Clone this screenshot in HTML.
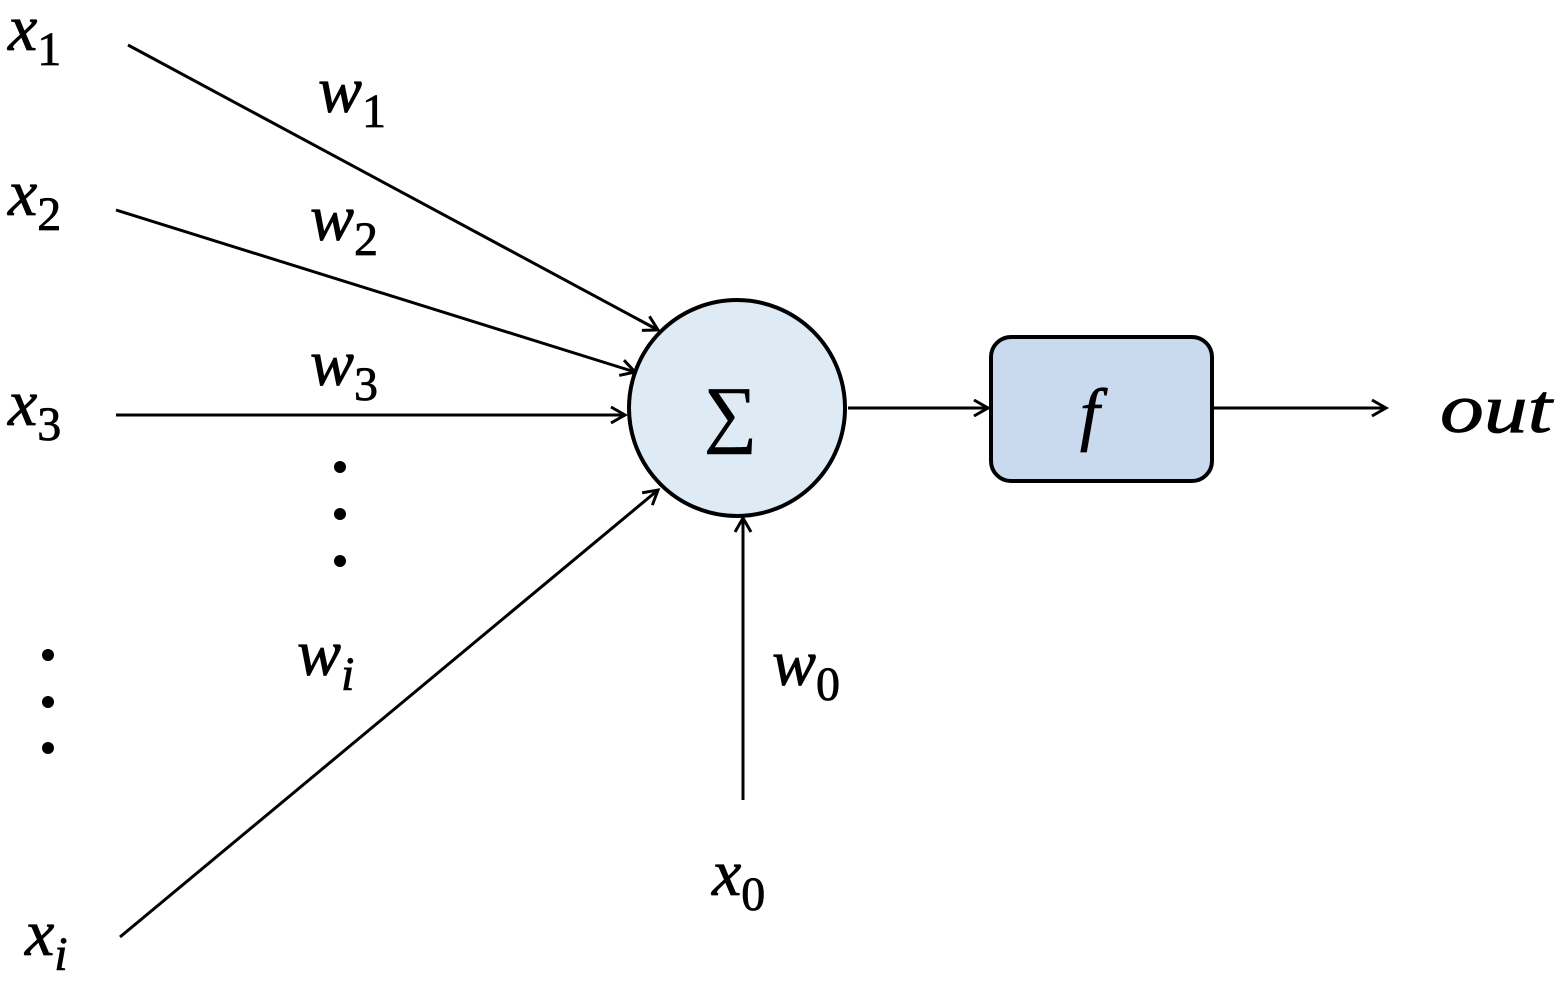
<!DOCTYPE html>
<html><head><meta charset="utf-8"><style>html,body{margin:0;padding:0;background:#fff}</style></head>
<body>
<svg width="1560" height="990" viewBox="0 0 1560 990" xmlns="http://www.w3.org/2000/svg">
<defs>
<marker id="a" markerWidth="20" markerHeight="20" refX="16" refY="10" orient="auto" markerUnits="userSpaceOnUse">
<path d="M2,2 L16,10 L2,18" fill="none" stroke="#000" stroke-width="3"/>
</marker>
</defs>
<g stroke="#000" stroke-width="3" fill="none">
<line x1="128" y1="45" x2="658" y2="330" marker-end="url(#a)"/>
<line x1="116" y1="210" x2="635" y2="372" marker-end="url(#a)"/>
<line x1="116" y1="415" x2="625" y2="415" marker-end="url(#a)"/>
<line x1="120" y1="937" x2="658" y2="490" marker-end="url(#a)"/>
<line x1="743" y1="800" x2="743" y2="518" marker-end="url(#a)"/>
<line x1="848" y1="408" x2="988" y2="408" marker-end="url(#a)"/>
<line x1="1212" y1="408" x2="1386" y2="408" marker-end="url(#a)"/>
</g>
<circle cx="737" cy="408" r="108" fill="#deebf4" stroke="#000" stroke-width="4"/>
<rect x="991" y="337" width="221" height="144" rx="20" fill="#c9d9ee" stroke="#000" stroke-width="4"/>
<g fill="#000">
<circle cx="340" cy="467" r="6"/><circle cx="340" cy="514" r="6"/><circle cx="340" cy="561" r="6"/>
<circle cx="48" cy="655" r="6"/><circle cx="48" cy="702" r="6"/><circle cx="48" cy="748" r="6"/>
</g>
<g font-family="'Liberation Serif', serif" font-style="italic" font-size="66" fill="#000" stroke="#000" stroke-width="0.8">
<text x="8" y="50">x<tspan font-style="normal" font-size="48" dy="15">1</tspan></text>
<text x="8" y="215">x<tspan font-style="normal" font-size="48" dy="15">2</tspan></text>
<text x="8" y="425">x<tspan font-style="normal" font-size="48" dy="15">3</tspan></text>
<text x="25" y="955">x<tspan font-size="48" dy="15">i</tspan></text>
<text x="318" y="112">w<tspan font-style="normal" font-size="48" dy="15">1</tspan></text>
<text x="310" y="240">w<tspan font-style="normal" font-size="48" dy="15">2</tspan></text>
<text x="310" y="385">w<tspan font-style="normal" font-size="48" dy="15">3</tspan></text>
<text x="297" y="675">w<tspan font-size="48" dy="15">i</tspan></text>
<text x="772" y="685">w<tspan font-style="normal" font-size="48" dy="15">0</tspan></text>
<text x="712" y="895">x<tspan font-style="normal" font-size="48" dy="15">0</tspan></text>
<text x="1440" y="432" font-size="70" textLength="112" lengthAdjust="spacingAndGlyphs">out</text>
<text x="1080" y="437" font-size="70">f</text>
<text x="704" y="438" font-style="normal" font-size="74">∑</text>
</g>
</svg>
</body></html>
